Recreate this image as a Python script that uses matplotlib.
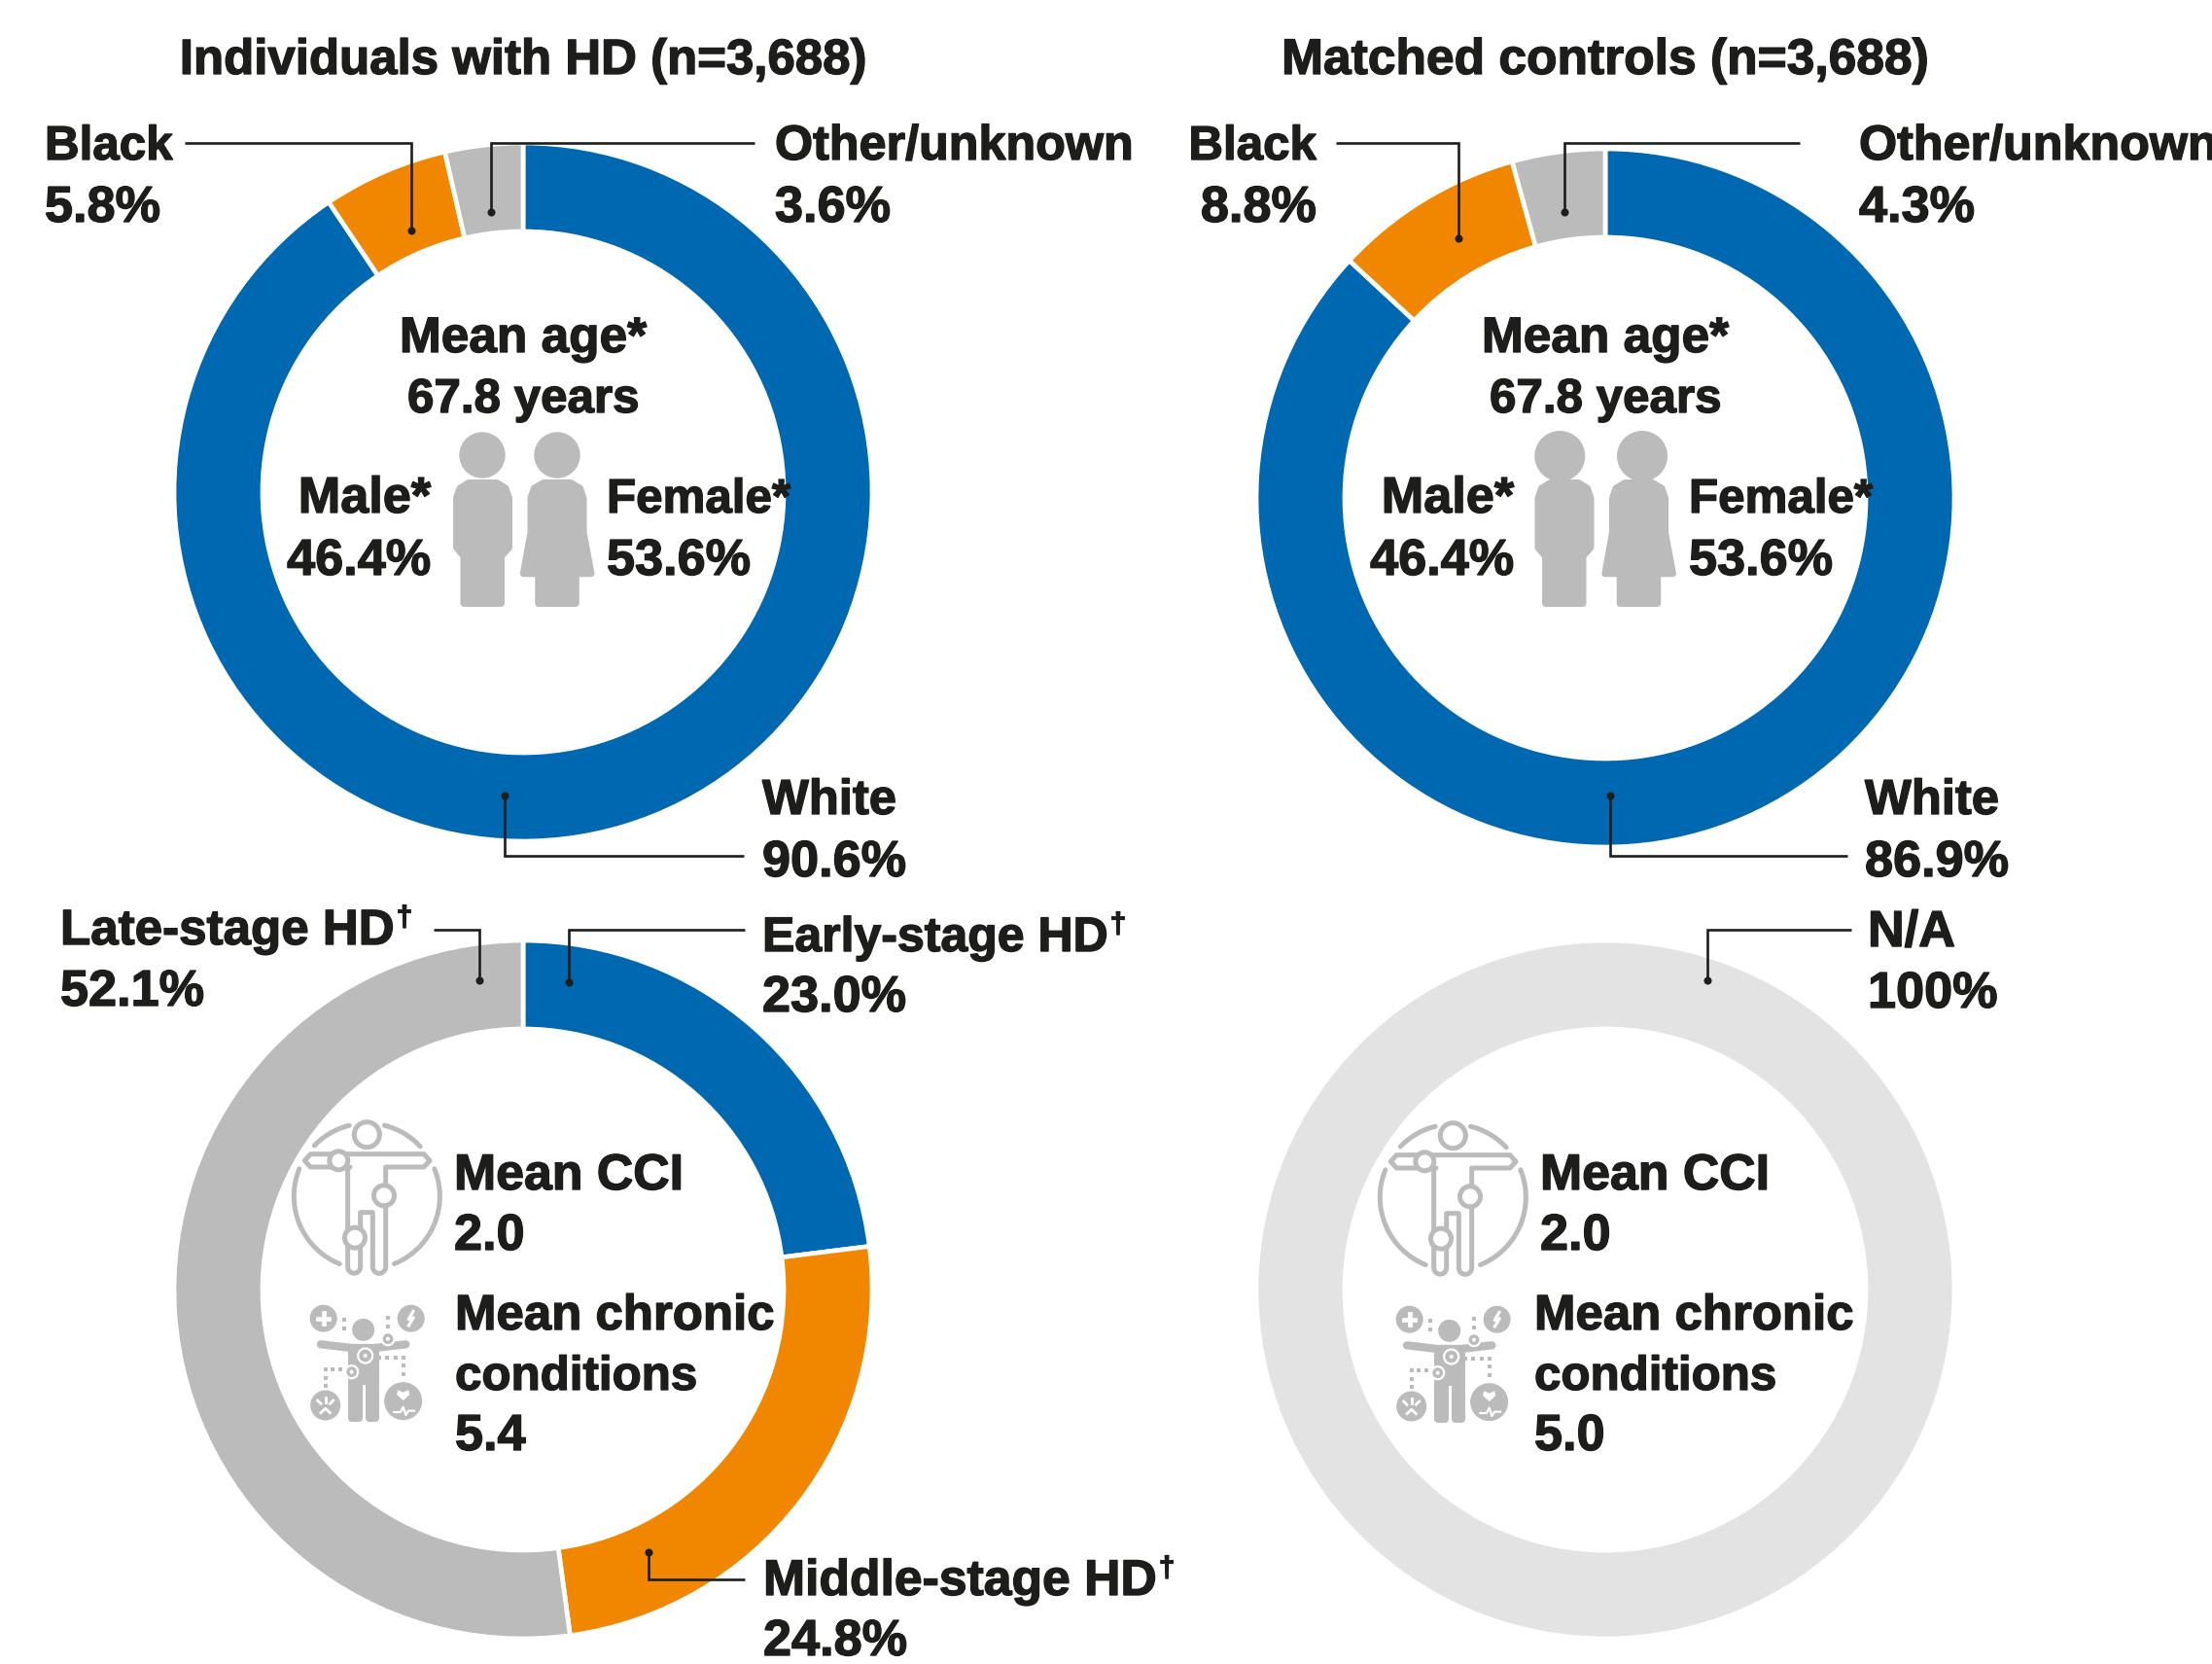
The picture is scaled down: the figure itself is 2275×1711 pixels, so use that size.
import numpy as np
import matplotlib
matplotlib.use("Agg")
import matplotlib.pyplot as plt
import matplotlib.patheffects as pe
from matplotlib.patches import Circle, Ellipse, Polygon

plt.rcParams['font.family'] = ['Liberation Sans', 'DejaVu Sans']

# race / ethnicity
race_labels = ["White", "Black", "Other/unknown"]
race_hd = [90.6, 5.8, 3.6]
race_ctrl = [86.9, 8.8, 4.3]

# disease stage
stage_labels = ["Early-stage HD", "Middle-stage HD", "Late-stage HD"]
stage_hd = [23.0, 24.8, 52.1]
stage_ctrl_label = "N/A"
stage_ctrl = [100]

titles = ["Individuals with HD (n=3,688)", "Matched controls (n=3,688)"]
mean_age = [67.8, 67.8]
male_pct = [46.4, 46.4]
female_pct = [53.6, 53.6]
mean_cci = [2.0, 2.0]
mean_chronic = [5.4, 5.0]

BLUE = "#0067b1"
ORANGE = "#f18700"
GREY = "#bbbbbb"
LIGHT = "#e3e3e3"
INK = "#1d1d1b"
W, H = 2275, 1711
FS = 35.5
FN = 37.6  # the numbers run wider in the original type

fig = plt.figure(figsize=(W / 100, H / 100), dpi=100, facecolor="white")


def donut(cx, cy, values, colors, R=359, r=268):
    ax = fig.add_axes([(cx - R) / W, 1 - (cy + R) / H, 2 * R / W, 2 * R / H], zorder=1)
    ax.pie(values, colors=colors, startangle=90, counterclock=False, radius=1,
           wedgeprops=dict(width=(R - r) / R, edgecolor="white", linewidth=3.4))
    ax.set_xlim(-1, 1)
    ax.set_ylim(-1, 1)


donut(538, 506, race_hd, [BLUE, ORANGE, GREY])
donut(1651, 512, race_ctrl, [BLUE, ORANGE, GREY])
donut(538, 1326, stage_hd, [BLUE, ORANGE, GREY])
donut(1651, 1326, stage_ctrl, [LIGHT])

# overlay in reference pixels for the labels, leaders and icons
ov = fig.add_axes([0, 0, 1, 1], zorder=2)
ov.set_xlim(0, W)
ov.set_ylim(H, 0)
ov.axis("off")
ov.patch.set_alpha(0)

fx = [pe.withStroke(linewidth=1.0, foreground=INK)]


def txt(x, y, s, ha="left", fs=FS):
    return ov.text(x, y, s, ha=ha, va="baseline", fontsize=fs, fontweight="bold",
                   color=INK, path_effects=fx, clip_on=False)


def dagger_txt(x, y, s, fs=36.8):
    t = txt(x, y, s, fs=fs)
    fig.canvas.draw()
    bb = t.get_window_extent()
    txt(bb.x1 + 2, y - 19, "\u2020", fs=FS * 0.6)


def leader(xs, ys):
    ov.plot(xs, ys, color=INK, lw=1.9, solid_joinstyle="miter", solid_capstyle="butt")
    ov.plot(xs[-1], ys[-1], "o", color=INK, ms=5.8, mew=0)


def stroke(xs, ys, lw=3.6, color=GREY):
    ov.plot(xs, ys, color=color, lw=lw, solid_capstyle="round", solid_joinstyle="round")


def arc(cx, cy, rad, a0, a1, **kw):
    a = np.radians(np.linspace(a0, a1, 60))
    stroke(cx + rad * np.cos(a), cy + rad * np.sin(a), **kw)


def rounded(pts, color=GREY, zorder=3):
    ov.add_patch(Polygon(pts, closed=True, facecolor=color, edgecolor=color, lw=5,
                         joinstyle="round", zorder=zorder))


def male_icon(dx, hx, hy, hr):
    ov.add_patch(Ellipse((hx, hy), 2 * hr, 2 * hr, color=GREY))
    rounded([(482 + dx, 496.5), (511 + dx, 496.5), (520 + dx, 502), (523.5 + dx, 512),
             (523.5 + dx, 563), (515.5 + dx, 572), (515.5 + dx, 620.5), (477 + dx, 620.5),
             (477 + dx, 572), (469.5 + dx, 563), (469.5 + dx, 512), (473 + dx, 502)])


def female_icon(dx, hx, hy, hr):
    ov.add_patch(Ellipse((hx, hy), 2 * hr, 2 * hr, color=GREY))
    rounded([(559 + dx, 496.5), (587 + dx, 496.5), (596.5 + dx, 502), (600 + dx, 512),
             (600 + dx, 547), (608 + dx, 589.8), (592.3 + dx, 589.8), (592.3 + dx, 620.5),
             (553.7 + dx, 620.5), (553.7 + dx, 589.8), (538.3 + dx, 589.8), (546 + dx, 547),
             (546 + dx, 512), (549.5 + dx, 502)])


def cci_icon(dx, dy):
    ox, oy = 280 + dx, 1130 + dy
    P = lambda *pts: (np.array([p[0] for p in pts]) / 3 + ox, np.array([p[1] for p in pts]) / 3 + oy)
    cx, cy = P((292, 300))
    for a0, a1 in [(-76, -43), (-136, -104), (-22, 68), (112, 202)]:
        arc(cx[0], cy[0], 75, a0, a1)
    hx, hy = P((292, 110))
    arc(hx[0], hy[0], 13, 0, 360)
    t = np.radians(np.linspace(0, 180, 15))
    right_foot = [(330 + 20 * np.cos(a), 518 + 20 * np.sin(a)) for a in t]
    left_foot = [(252.5 + 19.5 * np.cos(a), 518 + 19.5 * np.sin(a)) for a in t]
    xs, ys = P((240, 210), (118, 210), (100, 190), (118, 170), (468, 170), (486, 190), (468, 210),
               (350, 210), *right_foot, (310, 350), (272, 350), *left_foot, (233, 210))
    stroke(xs, ys)
    for px, py, rad in [(205, 190, 9.5), (345, 298, 10.5), (255, 428, 10.5)]:
        jx, jy = P((px, py))
        ov.add_patch(Circle((jx[0], jy[0]), rad, facecolor="white", edgecolor=GREY, lw=3.6, zorder=4))


def chronic_icon(dx, dy):
    ox, oy = 280 + dx, 1130 + dy
    P = lambda x, y: (x / 3 + ox, y / 3 + oy)
    for x, y, rad in [(158, 677, 14), (428, 677, 14), (164, 945, 15.5), (404, 932, 19.5), (281, 712, 11.5)]:
        ov.add_patch(Circle(P(x, y), rad, color=GREY, lw=0, zorder=3))
    # body
    rounded([P(*p) for p in [(244, 770), (318, 770), (318, 985), (298, 985), (298, 870), (266, 870),
                             (266, 985), (244, 985)]])
    ax_, ay_ = P(np.array([150, 245, 317, 412]), np.array([757, 768, 768, 757]))
    ov.plot(ax_, ay_, color=GREY, lw=6, solid_capstyle="round", zorder=3)
    # joints
    for x, y, rad in [(357, 740, 6.5), (287, 792, 7.5), (245, 842, 6.5)]:
        ov.add_patch(Circle(P(x, y), rad, facecolor=GREY, edgecolor="white", lw=1.6, zorder=5))
        ov.add_patch(Circle(P(x, y), 2, facecolor="white", lw=0, zorder=6))
    # dotted connectors
    for xs, ys in [([222, 222], [682, 708]), ([357, 357], [675, 702]),
                   ([330, 355, 380, 405, 405, 405], [798, 798, 798, 798, 823, 848]),
                   ([165, 165, 165, 187, 210], [885, 860, 835, 835, 835])]:
        gx, gy = P(np.array(xs), np.array(ys))
        ov.plot(gx, gy, "s", color=GREY, ms=3, mew=0, zorder=3)
    # glyphs inside the round badges
    a, b = P(np.array([158, 158]), np.array([660, 694]))
    ov.plot(a, b, color="white", lw=3.4, zorder=4)
    a, b = P(np.array([141, 175]), np.array([677, 677]))
    ov.plot(a, b, color="white", lw=3.4, zorder=4)
    a, b = P(np.array([435, 420, 436, 421]), np.array([655, 680, 674, 699]))
    ov.plot(a, b, color="white", lw=2.2, zorder=4)
    a, b = P(np.array([150, 164, 178]), np.array([968, 955, 968]))
    ov.plot(a, b, color="white", lw=2, zorder=4)
    for x0, y0, x1, y1 in [(140, 930, 150, 940), (188, 930, 178, 940), (164, 922, 164, 936)]:
        a, b = P(np.array([x0, x1]), np.array([y0, y1]))
        ov.plot(a, b, color="white", lw=2, zorder=4)
    a, b = P(np.array([404, 384, 388, 404, 420, 424, 404]), np.array([930, 912, 898, 905, 898, 912, 930]))
    ov.add_patch(Polygon(np.c_[a, b], color="white", lw=0, zorder=4))
    a, b = P(np.array([376, 396, 404, 412, 420, 438]), np.array([966, 966, 950, 975, 962, 962]))
    ov.plot(a, b, color="white", lw=1.6, zorder=4)


# titles
txt(538, 76, titles[0], ha="center", fs=36.7)
txt(1651, 76, titles[1], ha="center", fs=37.1)

# race labels, HD
txt(46, 164, race_labels[1])
txt(46, 228, f"{race_hd[1]}%", fs=FN)
txt(797, 164, race_labels[2], fs=36.2)
txt(797, 228, f"{race_hd[2]}%", fs=FN)
txt(784, 837, race_labels[0], fs=36.5)
txt(784, 901, f"{race_hd[0]}%", fs=FN)
leader([190, 423, 423], [147, 147, 237])
leader([776, 505, 505], [147, 147, 218])
leader([765, 519, 519], [880, 880, 818])

# race labels, controls
txt(1354, 164, race_labels[1], ha="right")
txt(1354, 228, f"{race_ctrl[1]}%", ha="right", fs=FN)
txt(1912, 164, race_labels[2], fs=36.2)
txt(1912, 228, f"{race_ctrl[2]}%", fs=FN)
txt(1918, 837, race_labels[0], fs=36.5)
txt(1918, 901, f"{race_ctrl[0]}%", fs=FN)
leader([1374, 1500, 1500], [147, 147, 245])
leader([1851, 1609, 1609], [147, 147, 218])
leader([1900, 1656, 1656], [880, 880, 818])

# centres of the top row
for i, (cx, lm, rf) in enumerate([(538, 443, 624), (1651, 1557, 1737)]):
    txt(cx, 362, "Mean age*", ha="center", fs=37)
    txt(cx, 424, f"{mean_age[i]} years", ha="center")
    txt(lm, 527, "Male*", ha="right", fs=37.6)
    txt(lm, 591, f"{male_pct[i]}%", ha="right", fs=FN)
    txt(rf, 527, "Female*")
    txt(rf, 591, f"{female_pct[i]}%", fs=FN)
male_icon(0, 496, 468, 23)
female_icon(0, 573, 468, 23)
male_icon(1112.5, 1604.3, 469, 25.3)
female_icon(1112.5, 1689, 469, 25.3)

# stage labels, HD
dagger_txt(62, 971, stage_labels[2])
txt(62, 1034, f"{stage_hd[2]}%", fs=FN)
dagger_txt(784, 978, stage_labels[0], fs=36)
txt(784, 1040, f"{stage_hd[0]}%", fs=FN)
dagger_txt(785, 1640, stage_labels[1], fs=37.2)
txt(785, 1702, f"{stage_hd[1]}%", fs=FN)
leader([446, 493, 493], [956, 956, 1008])
leader([766, 585, 585], [956, 956, 1010])
leader([766, 667, 667], [1624, 1624, 1596])

# stage label, controls
txt(1921, 973, stage_ctrl_label, fs=37.6)
txt(1921, 1036, f"{stage_ctrl[0]}%", fs=FN)
leader([1904, 1756, 1756], [956, 956, 1008])

# centres of the bottom row
for i, (x1, x2, dx) in enumerate([(467, 468, 0), (1584, 1578, 1117)]):
    txt(x1, 1223, "Mean CCI", fs=37.3)
    txt(x1, 1285, f"{mean_cci[i]}", fs=FN)
    txt(x2, 1367, "Mean chronic", fs=36.7)
    txt(x2, 1429, "conditions")
    txt(x2, 1491, f"{mean_chronic[i]}", fs=FN)
    cci_icon(dx, i)
    chronic_icon(dx, i)

fig.savefig("out.png", dpi=100, facecolor="white")
